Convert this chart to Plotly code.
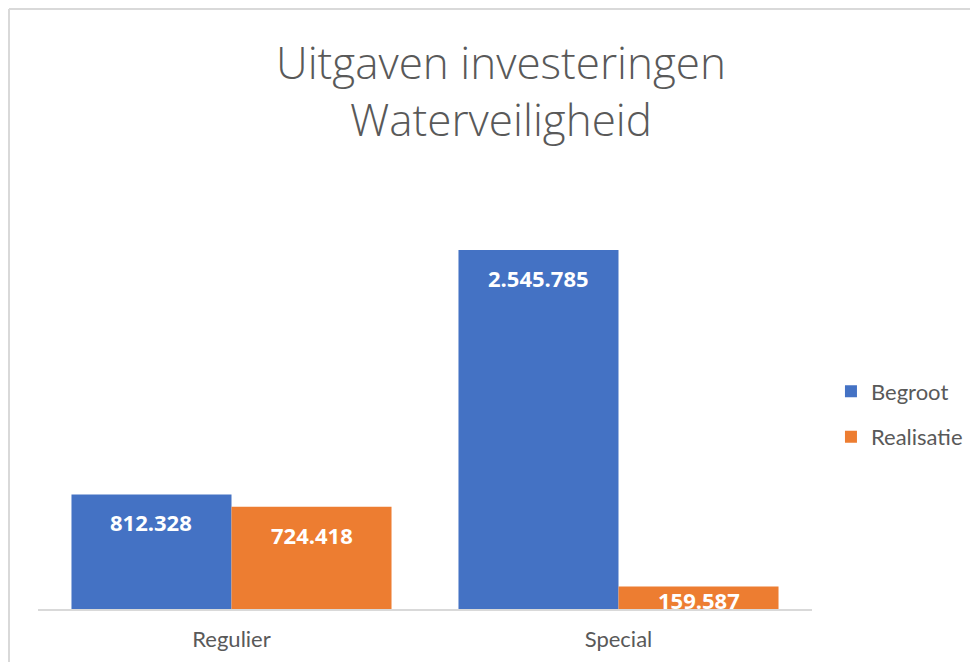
import plotly.graph_objects as go

categories = ["Regulier", "Special"]
begroot = [812328, 2545785]
realisatie = [724418, 159587]
series_names = ["Begroot", "Realisatie"]
colors = ["#4472C4", "#ED7D31"]
title_lines = ["Uitgaven investeringen", "Waterveiligheid"]

# page body has an 8px margin in the browser -> compensate (and avoid scrollbars)
W, H = 962, 654
L, T = 30, 178
plot_w, plot_h = 774, 423
R, B = W - L - plot_w, H - T - plot_h
y_max = 3000000
bargap = 0.173
bar_px = (1 - bargap) * plot_w / len(categories) / 2

fig = go.Figure()
annotations = []
for i, (name, vals) in enumerate(zip(series_names, [begroot, realisatie])):
    fig.add_trace(go.Bar(
        x=categories, y=vals, name=name, legendgroup=name,
        marker=dict(color=colors[i], line=dict(width=0)),
        hoverinfo="x+y",
    ))
    for c, v in zip(categories, vals):
        hpx = v / y_max * plot_h
        shift = -28 if hpx > 60 else -(hpx / 2 + 2)
        annotations.append(dict(
            x=c, y=v, xref="x", yref="y", showarrow=False,
            text=f"{v:,}".replace(",", "."),
            xshift=(i - 0.5) * bar_px, yshift=shift,
            yanchor="middle", xanchor="center",
            font=dict(family="Open Sans", size=22, color="white", weight="bold"),
        ))

annotations.append(dict(
    text="<br>".join(title_lines), xref="paper", yref="paper",
    x=(493 - L) / plot_w, y=1 + (T - 82) / plot_h,
    xanchor="center", yanchor="middle", showarrow=False,
    font=dict(family="Open Sans", size=44, color="#595959", weight=300),
))

x_left = -(L - 1) / plot_w
x_right = 1 + R / plot_w
y_top = 1 + 177 / plot_h
y_bot = -B / plot_h

fig.update_layout(
    width=W, height=H,
    barmode="group", bargap=bargap, bargroupgap=0,
    paper_bgcolor="white", plot_bgcolor="white",
    margin=dict(l=L, r=R, t=T, b=B, autoexpand=False),
    xaxis=dict(showline=True, linecolor="#d9d9d9", linewidth=1.5, ticks="",
               ticklabelstandoff=10,
               tickfont=dict(family="Lato", size=22, color="#595959")),
    yaxis=dict(range=[0, y_max], visible=False, showgrid=False),
    legend=dict(x=1.0245, y=0.46, xanchor="left", yanchor="middle",
                font=dict(family="Lato", size=22, color="#595959"),
                tracegroupgap=14, itemwidth=30),
    showlegend=True,
    annotations=annotations,
    shapes=[
        dict(type="line", xref="paper", yref="paper",
             x0=x_left, x1=x_right, y0=y_top, y1=y_top,
             line=dict(color="#d9d9d9", width=2)),
        dict(type="line", xref="paper", yref="paper",
             x0=x_left, x1=x_left, y0=y_top, y1=y_bot,
             line=dict(color="#d9d9d9", width=2)),
    ],
)

fig.write_html("out.html")
